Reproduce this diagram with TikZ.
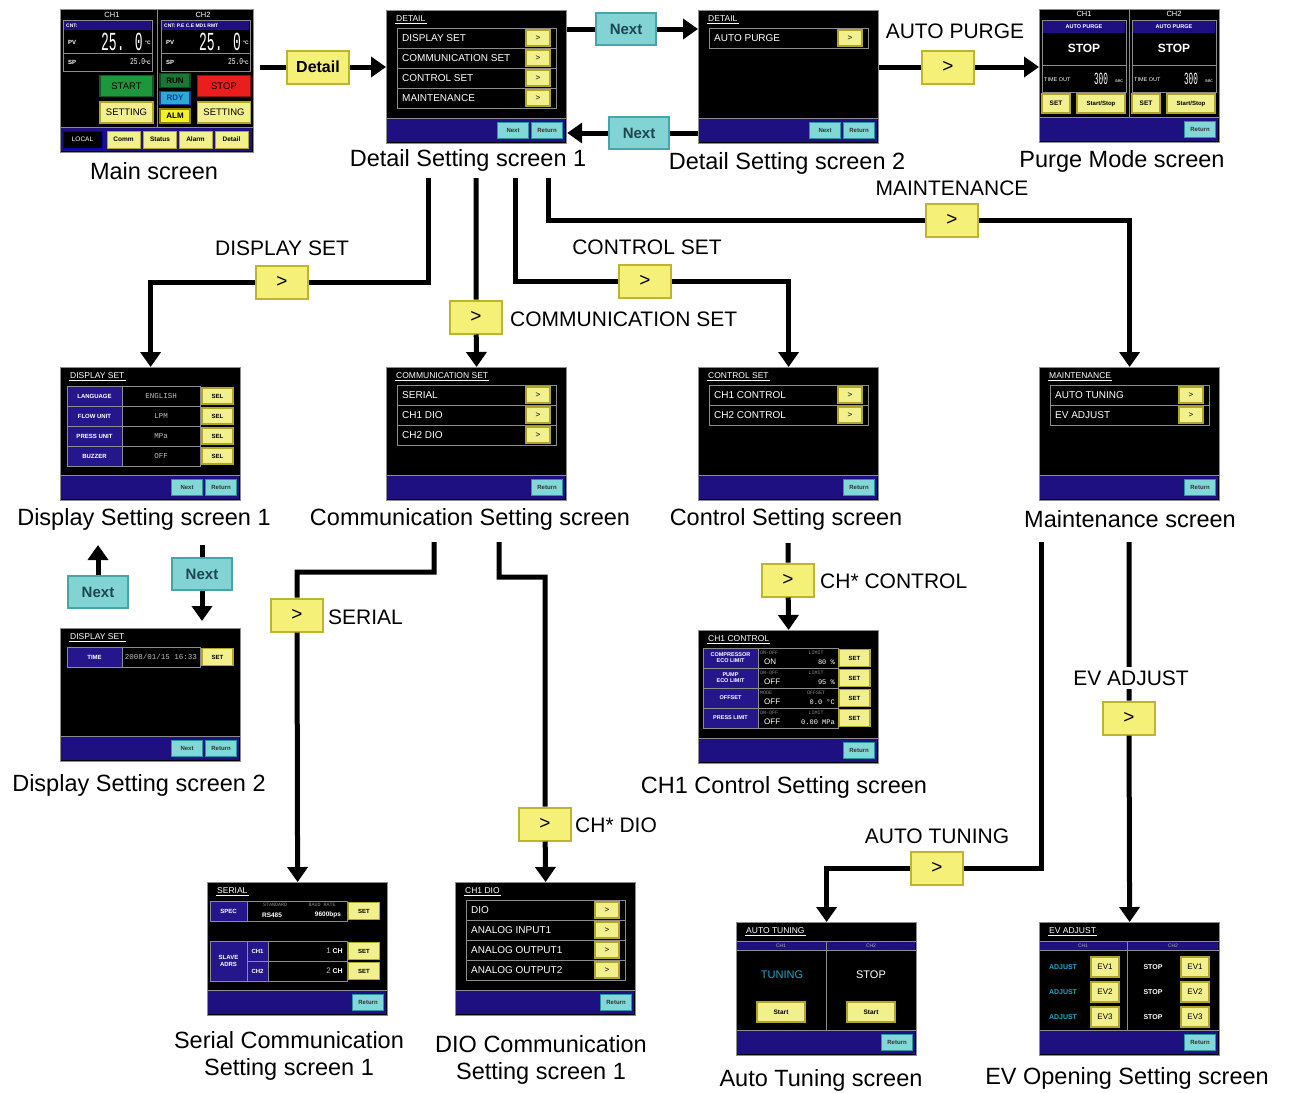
\documentclass[tikz,border=0pt]{standalone}
\usepackage{fontspec}
\setmainfont{Liberation Sans}
\newfontfamily\monofnt{Liberation Mono}
\usetikzlibrary{arrows.meta, positioning}
\definecolor{scrblue}{RGB}{30,16,128}
\definecolor{cellblue}{RGB}{38,22,140}
\definecolor{scrgray}{RGB}{140,140,140}
\definecolor{yfill}{RGB}{242,240,140}
\definecolor{yedge}{RGB}{175,165,40}
\definecolor{cfill}{RGB}{130,215,215}
\definecolor{cedge}{RGB}{35,150,160}
\definecolor{gfill}{RGB}{245,240,120}
\definecolor{gedge}{RGB}{190,180,45}
\definecolor{nfill}{RGB}{130,212,212}
\definecolor{nedge}{RGB}{70,165,170}
\definecolor{ntext}{RGB}{30,70,80}
\definecolor{startgreen}{RGB}{30,150,60}
\definecolor{rungreen}{RGB}{25,120,50}
\definecolor{rdycyan}{RGB}{45,170,210}
\definecolor{rdyblue}{RGB}{20,60,160}
\definecolor{almyellow}{RGB}{245,240,40}
\definecolor{almedge}{RGB}{140,130,0}
\definecolor{stopred}{RGB}{235,30,30}
\definecolor{tunecyan}{RGB}{30,170,200}
\newcommand{\fsz}[1]{\fontsize{#1}{#1}\selectfont}
\tikzset{
  scr/.style={draw=scrgray, line width=1.2pt, fill=black, minimum width=180pt, minimum height=133pt, anchor=north west, inner sep=0pt},
  scrtitle/.style={anchor=west, text=white, inner sep=1pt, font=\fsz{8.5}},
  rowline/.style={draw=scrgray, line width=.8pt},
  rowtxt/.style={anchor=west, text=white, inner sep=0pt, font=\fsz{10}},
  ybtn/.style={draw=yedge, fill=yfill, line width=1.2pt, minimum width=24pt, minimum height=16pt, inner sep=0pt, font=\fsz{8}},
  setbtn/.style={ybtn, minimum width=31pt, minimum height=17pt, font=\bfseries\fsz{6}},
  evbtn/.style={ybtn, minimum width=28pt, minimum height=20pt, font=\fsz{8}},
  cbtn/.style={draw=cedge, fill=cfill, line width=1pt, minimum width=31pt, minimum height=16pt, inner sep=0pt, font=\bfseries\fsz{6}, text=black!80},
  mbtn/.style={draw=yedge, fill=yfill, line width=1pt, minimum width=33pt, minimum height=17pt, inner sep=0pt, font=\bfseries\fsz{6.5}},
  mainbig/.style={minimum width=53pt, minimum height=21pt, inner sep=0pt, line width=1.2pt, font=\fsz{9.5}},
  led/.style={minimum width=30pt, minimum height=14pt, inner sep=0pt, line width=1.2pt, font=\bfseries\fsz{8}},
  chtxt/.style={text=white, inner sep=0pt, font=\fsz{7.5}},
  pvtxt/.style={anchor=west, text=white, inner sep=0pt, font=\bfseries\fsz{6}},
  hdtxt/.style={text=black!30, inner sep=0pt, font=\fsz{5}},
  celltxt/.style={text=white, font=\bfseries\fontsize{6}{6.5}\selectfont, align=center, inner sep=0pt},
  valtxt/.style={text=black!25, font=\monofnt\fsz{7.5}, inner sep=0pt},
  subtxt/.style={text=black!45, font=\monofnt\fsz{5}, inner sep=0pt},
  sertxt/.style={text=white, font=\bfseries\fsz{6.5}, inner sep=0pt},
  caption/.style={font=\fsz{23.5}, inner sep=0pt},
  flowlbl/.style={font=\fsz{21}, inner sep=0pt},
  gobtn/.style={draw=gedge, fill=gfill, line width=2pt, minimum width=52pt, minimum height=33pt, inner sep=0pt, font=\fsz{19}},
  nextbig/.style={draw=nedge, fill=nfill, line width=2pt, minimum width=60pt, minimum height=32pt, inner sep=0pt, font=\bfseries\fsz{15}, text=ntext},
  flow/.style={line width=5pt, -{Triangle[width=20pt,length=15pt]}}
}
\newcommand{\scrbase}[1]{%
  \node[scr] (#1) at (0,0) {};
  \fill[scrblue] (0.6,108) rectangle (179.4,132.4);
  \draw[scrgray, line width=.8pt] (0,108) -- (180,108);}
\newcommand{\scrhead}[2]{%
  \node[scrtitle] (#1) at (9,9) {#2};
  \draw[white, line width=.7pt] ([yshift=-1.2pt]#1.base west) -- ([yshift=-1.2pt]#1.base east);}
\newcommand{\scrrows}[1]{%
  \foreach \lbl [count=\i from 0] in {#1} {
    \draw[rowline] (11,18+20*\i) rectangle ++(159,20);
    \node[rowtxt] at (16,28+20*\i) {\lbl};
    \node[ybtn] at (152,28+20*\i) {>};
  }}
\newcommand{\retbtn}{\node[cbtn] at (161,120) {Return};}
\newcommand{\nxtbtn}{\node[cbtn] at (127,120) {Next};}

\begin{document}
\begin{tikzpicture}[x=1pt, y=-1pt]
  \useasboundingbox (0,0) rectangle (1289,1092);

  % main screen
  \begin{scope}[shift={(60,9)}]
    \node[scr, minimum width=193pt, minimum height=143pt] (main) at (0,0) {};
    \draw[scrgray, line width=.8pt] (97,0) -- (97,118);
    \node[chtxt] at (52,6) {CH1};
    \node[chtxt] at (143,6) {CH2};
    \foreach \dx/\hd in {0/CNT:, 98/CNT: P.E C.E MD1 RMT} {
      \draw[rowline] (3+\dx,11) rectangle ++(89,51);
      \fill[scrblue] (4+\dx,12) rectangle ++(87,9);
      \node[anchor=west, text=white, inner sep=0pt, font=\bfseries\fsz{5}] at (6+\dx,16.5) {\hd};
      \draw[scrgray, line width=.8pt] (3+\dx,44) -- ++(89,0);
      \node[pvtxt] at (8+\dx,33) {PV};
      \node[text=white, inner sep=0pt] at (62+\dx,33) {\scalebox{0.5}[1]{\monofnt\fsz{26}25. 0}};
      \node[text=white, inner sep=0pt, font=\bfseries\fsz{5}] at (88+\dx,34) {°C};
      \node[pvtxt] at (8+\dx,53) {SP};
      \node[anchor=east, text=white, inner sep=0pt] at (91+\dx,53) {\scalebox{0.7}[1]{\monofnt\fsz{9}25.0}\bfseries\fsz{5}°C};
    }
    \node[mainbig, fill=startgreen, draw=startgreen!60!black] at (66.5,77) {START};
    \node[mainbig, fill=yfill, draw=yedge] at (66.5,103.5) {SETTING};
    \node[led, fill=rungreen, draw=rungreen!60!black] at (115,71.5) {RUN};
    \node[led, fill=rdycyan, draw=rdyblue, text=rdyblue, minimum height=13pt] at (115,89) {RDY};
    \node[led, fill=almyellow, draw=almedge] at (115,107) {ALM};
    \node[mainbig, fill=stopred, draw=stopred!60!black] at (164,77) {STOP};
    \node[mainbig, fill=yfill, draw=yedge] at (164,103.5) {SETTING};
    \fill[scrblue] (0.6,118) rectangle (192.4,142.4);
    \draw[scrgray, line width=.8pt] (0,118) -- (193,118);
    \node[mbtn, fill=black, draw=blue!70!black, text=white, minimum width=39pt, font=\fsz{6.5}] at (22.5,130.5) {LOCAL};
    \foreach \cx/\lbl in {63.5/Comm, 100/Status, 135.5/Alarm, 171.5/Detail}
      \node[mbtn] at (\cx,130.5) {\lbl};
  \end{scope}

  % detail setting screens
  \begin{scope}[shift={(386,10)}]
    \scrbase{det1} \scrhead{det1t}{DETAIL}
    \scrrows{DISPLAY SET, COMMUNICATION SET, CONTROL SET, MAINTENANCE}
    \nxtbtn \retbtn
  \end{scope}
  \begin{scope}[shift={(698,10)}]
    \scrbase{det2} \scrhead{det2t}{DETAIL}
    \scrrows{AUTO PURGE}
    \nxtbtn \retbtn
  \end{scope}

  % purge mode
  \begin{scope}[shift={(1039,9)}]
    \scrbase{purge}
    \draw[scrgray, line width=.8pt] (90,0) -- (90,108);
    \node[chtxt] at (45,5) {CH1};
    \node[chtxt] at (135,5) {CH2};
    \foreach \dx in {0,90} {
      \draw[rowline] (3+\dx,11) rectangle ++(84,72);
      \fill[scrblue] (4+\dx,12) rectangle ++(82,12);
      \node[text=white, inner sep=0pt, font=\bfseries\fsz{5.5}] at (45+\dx,18) {AUTO PURGE};
      \node[text=white, inner sep=0pt, font=\bfseries\fsz{12}] at (45+\dx,39) {STOP};
      \draw[scrgray, line width=.8pt] (3+\dx,56) -- ++(84,0);
      \node[anchor=west, text=white, inner sep=0pt, font=\fsz{5.5}] at (5+\dx,71) {TIME OUT};
      \node[text=white, inner sep=0pt] at (62+\dx,70) {\scalebox{0.45}[1]{\monofnt\fsz{17}300}};
      \node[text=white, inner sep=0pt, font=\fsz{5}] at (80+\dx,72) {sec};
      \node[ybtn, minimum width=28pt, minimum height=19pt, font=\bfseries\fsz{6.5}] at (17+\dx,94.5) {SET};
      \node[ybtn, minimum width=48pt, minimum height=19pt, font=\bfseries\fsz{6}] at (62+\dx,94.5) {Start/Stop};
    }
    \retbtn
  \end{scope}

  % display set 1
  \begin{scope}[shift={(60,367)}]
    \scrbase{disp1} \scrhead{disp1t}{DISPLAY SET}
    \foreach \lbl/\val [count=\i from 0] in {LANGUAGE/ENGLISH, FLOW UNIT/LPM, PRESS UNIT/MPa, BUZZER/OFF} {
      \draw[rowline, fill=cellblue] (7,19+20*\i) rectangle ++(55,20);
      \draw[rowline] (62,19+20*\i) rectangle ++(78,20);
      \node[celltxt] at (34.5,29+20*\i) {\lbl};
      \node[valtxt] at (101,29+20*\i) {\val};
      \node[setbtn, minimum height=16pt] at (157.5,29+20*\i) {SEL};
    }
    \nxtbtn \retbtn
  \end{scope}

  % communication / control / maintenance
  \begin{scope}[shift={(386,367)}]
    \scrbase{comm} \scrhead{commt}{COMMUNICATION SET}
    \scrrows{SERIAL, CH1 DIO, CH2 DIO}
    \retbtn
  \end{scope}
  \begin{scope}[shift={(698,367)}]
    \scrbase{ctrl} \scrhead{ctrlt}{CONTROL SET}
    \scrrows{CH1 CONTROL, CH2 CONTROL}
    \retbtn
  \end{scope}
  \begin{scope}[shift={(1039,367)}]
    \scrbase{mnt} \scrhead{mntt}{MAINTENANCE}
    \scrrows{AUTO TUNING, EV ADJUST}
    \retbtn
  \end{scope}

  % display set 2
  \begin{scope}[shift={(60,628)}]
    \scrbase{disp2} \scrhead{disp2t}{DISPLAY SET}
    \draw[rowline, fill=cellblue] (7,19) rectangle ++(55,20);
    \draw[rowline] (62,19) rectangle ++(78,20);
    \node[celltxt] at (34.5,29) {TIME};
    \node[valtxt] at (101,29) {2008/01/15 16:33};
    \node[setbtn] at (157.5,29) {SET};
    \nxtbtn \retbtn
  \end{scope}

  % CH1 control
  \begin{scope}[shift={(698,630)}]
    \scrbase{ch1} \scrhead{ch1t}{CH1 CONTROL}
    \foreach \lbl/\ka/\kb/\va/\vb [count=\i from 0] in {{COMPRESSOR\\ECO LIMIT}/ON-OFF/LIMIT/ON/80 \%, {PUMP\\ECO LIMIT}/ON-OFF/LIMIT/OFF/95 \%, OFFSET/MODE/OFFSET/OFF/0.0 °C, PRESS LIMIT/ON-OFF/LIMIT/OFF/0.00 MPa} {
      \draw[rowline, fill=cellblue] (5,18+20*\i) rectangle ++(55,20);
      \draw[rowline] (60,18+20*\i) rectangle ++(80,20);
      \node[celltxt, font=\bfseries\fontsize{5.5}{6}\selectfont] at (32.5,28+20*\i) {\lbl};
      \node[subtxt, anchor=west] at (62,22.5+20*\i) {\ka};
      \node[subtxt] at (118,22.5+20*\i) {\kb};
      \node[anchor=west, text=white, inner sep=0pt, font=\fsz{8}] at (66,32+20*\i) {\va};
      \node[anchor=east, text=white, inner sep=0pt, font=\monofnt\fsz{7}] at (137,32+20*\i) {\vb};
      \node[setbtn] at (156.5,28+20*\i) {SET};
    }
    \retbtn
  \end{scope}

  % serial
  \begin{scope}[shift={(207,882)}]
    \scrbase{ser} \scrhead{sert}{SERIAL}
    \draw[rowline, fill=cellblue] (3,19) rectangle (40,39);
    \node[celltxt] at (21.5,29) {SPEC};
    \draw[rowline] (40,19) rectangle (140,39);
    \node[subtxt] at (68,23) {STANDARD};
    \node[subtxt] at (115,23) {BAUD RATE};
    \node[sertxt] at (65,33) {RS485};
    \node[sertxt] at (121,33) {9600bps};
    \node[setbtn] at (157,29) {SET};
    \draw[rowline, fill=cellblue] (3,59) rectangle (40,99);
    \node[celltxt] at (21.5,79) {SLAVE\\ADRS};
    \foreach \lbl/\v [count=\i from 0] in {CH1/1, CH2/2} {
      \draw[rowline, fill=cellblue] (40,59+20*\i) rectangle ++(21,20);
      \node[celltxt] at (50.5,69+20*\i) {\lbl};
      \draw[rowline] (61,59+20*\i) rectangle (140,79+20*\i);
      \node[anchor=east, text=white, inner sep=0pt, font=\bfseries\fsz{7}] at (136,69+20*\i) {{\mdseries\color{black!25}\fsz{8}\v}\ CH};
      \node[setbtn] at (157,69+20*\i) {SET};
    }
    \retbtn
  \end{scope}

  % DIO
  \begin{scope}[shift={(455,882)}]
    \scrbase{dio} \scrhead{diot}{CH1 DIO}
    \scrrows{DIO, ANALOG INPUT1, ANALOG OUTPUT1, ANALOG OUTPUT2}
    \retbtn
  \end{scope}

  % auto tuning
  \begin{scope}[shift={(736,922)}]
    \scrbase{at} \scrhead{att}{AUTO TUNING}
    \fill[scrblue] (0.6,19) rectangle (179.4,28);
    \draw[scrgray, line width=.8pt] (0,19) -- (180,19) (0,28) -- (180,28) (90,19) -- (90,108);
    \node[hdtxt] at (45,23.5) {CH1};
    \node[hdtxt] at (135,23.5) {CH2};
    \node[text=tunecyan, inner sep=0pt, font=\fsz{11}] at (46,53) {TUNING};
    \node[text=white, inner sep=0pt, font=\fsz{11}] at (135,53) {STOP};
    \node[ybtn, minimum width=48pt, minimum height=20pt, font=\bfseries\fsz{6.5}] at (45,90) {Start};
    \node[ybtn, minimum width=48pt, minimum height=20pt, font=\bfseries\fsz{6.5}] at (135,90) {Start};
    \retbtn
  \end{scope}

  % EV adjust
  \begin{scope}[shift={(1039,922)}]
    \scrbase{ev} \scrhead{evt}{EV ADJUST}
    \fill[scrblue] (0.6,19) rectangle (179.4,28);
    \draw[scrgray, line width=.8pt] (0,19) -- (180,19) (0,28) -- (180,28) (88,19) -- (88,108);
    \node[hdtxt] at (44,23.5) {CH1};
    \node[hdtxt] at (134,23.5) {CH2};
    \foreach \k [count=\i from 0] in {1,2,3} {
      \node[text=tunecyan, inner sep=0pt, font=\bfseries\fsz{7}] at (24,45+25*\i) {ADJUST};
      \node[evbtn] at (66,45+25*\i) {EV\k};
      \node[text=white, inner sep=0pt, font=\bfseries\fsz{7}] at (114,45+25*\i) {STOP};
      \node[evbtn] at (156,45+25*\i) {EV\k};
    }
    \retbtn
  \end{scope}

  % captions
  \node[caption] (maincap) at (154,171) {Main screen};
  \node[caption] (det1cap) at (468,160) {Detail Setting screen 1};
  \node[caption] (det2cap) at (787,163) {Detail Setting screen 2};
  \node[caption] (purgecap) at (1122,161) {Purge Mode screen};
  \node[caption] (disp1cap) at (144,519) {Display Setting screen 1};
  \node[caption] (commcap) at (470,519) {Communication Setting screen};
  \node[caption] (ctrlcap) at (786,519) {Control Setting screen};
  \node[caption] (mntcap) at (1130,519) {Maintenance screen};
  \node[caption] (disp2cap) at (139,785) {Display Setting screen 2};
  \node[caption] (ch1cap) at (784,787) {CH1 Control Setting screen};
  \node[caption, align=center, font=\fontsize{23.5}{27}\selectfont] (sercap) at (289,1056) {Serial Communication\\Setting screen 1};
  \node[caption, align=center, font=\fontsize{23.5}{27}\selectfont] (diocap) at (541,1060) {DIO Communication\\Setting screen 1};
  \node[caption] (atcap) at (821,1080) {Auto Tuning screen};
  \node[caption] (evcap) at (1127,1078) {EV Opening Setting screen};

  % connectors
  \node[gobtn, minimum width=62pt, font=\bfseries\fsz{16}] (bDetail) at (318,67) {Detail};
  \coordinate (mainout) at (260,67);
  \draw[flow] (mainout) -- (bDetail) -- (bDetail -| det1.west);

  \node[nextbig] (bNextA) at (626,29) {Next};
  \draw[flow] (det1.north east |- bNextA) -- (bNextA) -- (bNextA -| det2.west);
  \node[nextbig] (bNextB) at (639,133) {Next};
  \draw[flow] (det2.west |- bNextB) -- (bNextB) -- (bNextB -| det1.east);

  \node[flowlbl] (lPurge) at (955,31) {AUTO PURGE};
  \node[gobtn] (bPurge) at (948,67) {>};
  \draw[flow] (det2.east |- bPurge) -- (bPurge) -- (bPurge -| purge.west);

  \coordinate (d1a) at (428,178);
  \coordinate (d1b) at (476,178);
  \coordinate (d1c) at (515,178);
  \coordinate (d1d) at (548,178);

  \node[flowlbl] (lDisp) at (282,248) {DISPLAY SET};
  \node[gobtn] (bDisp) at (282,282) {>};
  \draw[flow] (d1a) |- (bDisp) -| (disp1.north);

  \node[gobtn] (bComm) at (476,317) {>};
  \node[flowlbl, anchor=west] (lComm) at (510,319) {COMMUNICATION SET};
  \draw[flow] (d1b) -- (bComm) -- (comm.north);

  \node[flowlbl] (lCtrl) at (647,247) {CONTROL SET};
  \node[gobtn] (bCtrl) at (645,281) {>};
  \draw[flow] (d1c) |- (bCtrl) -| (ctrl.north);

  \node[flowlbl] (lMnt) at (952,188) {MAINTENANCE};
  \node[gobtn] (bMnt) at (952,220) {>};
  \draw[flow] (d1d) |- (bMnt) -| (mnt.north);

  % display set 1 <-> 2
  \node[nextbig] (bNextC) at (98,592) {Next};
  \coordinate (upend) at (98,545);
  \draw[flow] (bNextC) -- (upend);
  \node[nextbig] (bNextD) at (202,574) {Next};
  \coordinate (dnstart) at (202,545);
  \coordinate (dnend) at (202,621);
  \draw[flow] (dnstart) -- (bNextD) -- (dnend);

  % communication
  \coordinate (c1) at (434,542);
  \coordinate (c1k) at (434,572);
  \node[gobtn] (bSer) at (297,615) {>};
  \node[flowlbl, anchor=west] (lSer) at (328,617) {SERIAL};
  \draw[flow] (c1) -- (c1k) -| (bSer) -- (ser.north);
  \coordinate (c2) at (499,542);
  \coordinate (c2k) at (499,577);
  \node[gobtn] (bDio) at (545,824) {>};
  \node[flowlbl, anchor=west] (lDio) at (575,825) {CH* DIO};
  \draw[flow] (c2) -- (c2k) -| (bDio) -- (dio.north);

  % control
  \coordinate (k1) at (788,543);
  \node[gobtn] (bChc) at (788,580) {>};
  \node[flowlbl, anchor=west] (lChc) at (820,581) {CH* CONTROL};
  \draw[flow] (k1) -- (bChc) -- (ch1.north);

  % maintenance
  \coordinate (t1) at (1041,542);
  \node[flowlbl] (lAT) at (937,836) {AUTO TUNING};
  \node[gobtn] (bAT) at (937,868) {>};
  \draw[flow] (t1) |- (bAT) -| (at.north);
  \coordinate (e1) at (1129,542);
  \node[gobtn] (bEV) at (1129,718) {>};
  \draw[flow] (e1) -- (bEV) -- (ev.north);
  \node[flowlbl, fill=white, inner sep=4pt] (lEV) at (1131,678) {EV ADJUST};
\end{tikzpicture}
\end{document}
